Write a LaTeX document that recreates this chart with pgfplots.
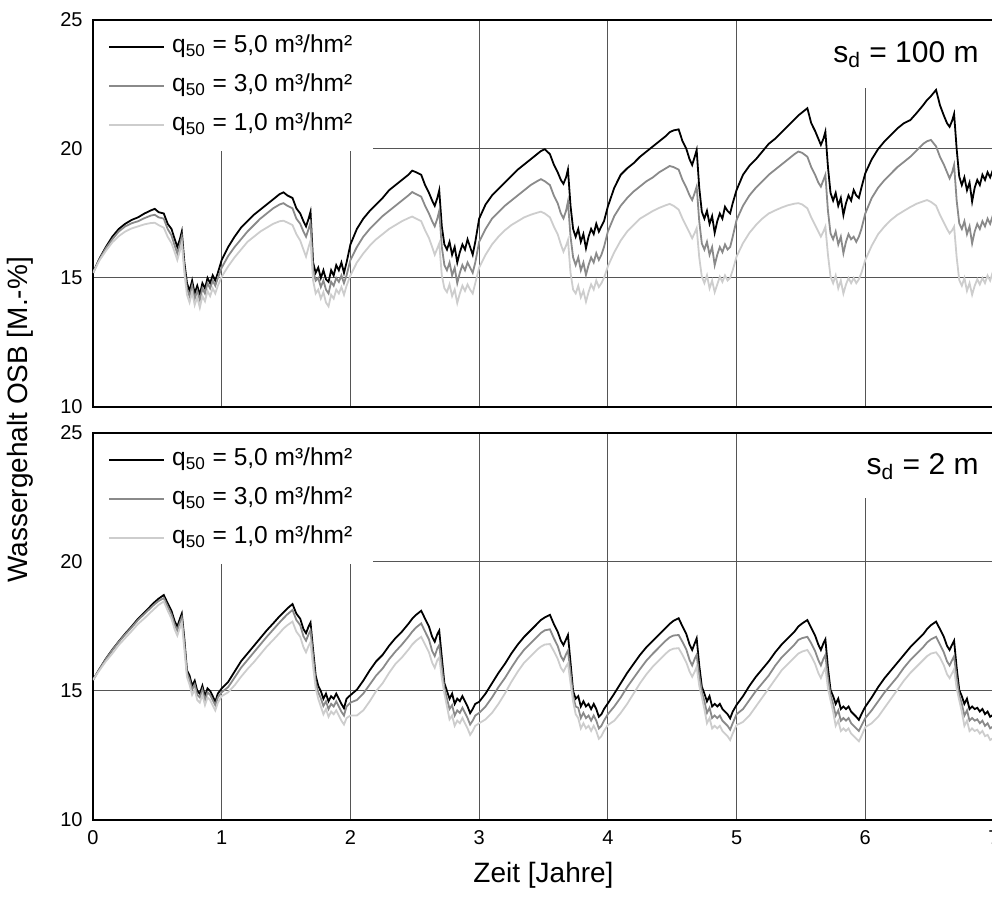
\documentclass[border=0pt]{standalone}
\usepackage{pgfplots}
\pgfplotsset{compat=1.18}
\usepackage{pgfplotstable}
\usepackage{fontspec}
\setmainfont{Liberation Sans}

\definecolor{gridc}{HTML}{555555}
\definecolor{qfive}{HTML}{000000}
\definecolor{qthree}{HTML}{8A8A8A}
\definecolor{qone}{HTML}{CDCDCD}

% s_d = 100 m : t  q50=5  q50=3  q50=1
\pgfplotstableread{
t b g l
0.00 15.2 15.2 15.2
0.05 15.75 15.72 15.68
0.10 16.2 16.15 16.05
0.15 16.6 16.5 16.38
0.20 16.9 16.8 16.62
0.25 17.1 17.0 16.8
0.30 17.25 17.12 16.92
0.35 17.35 17.2 17.0
0.40 17.5 17.32 17.08
0.45 17.62 17.42 17.13
0.48 17.68 17.45 17.14
0.51 17.55 17.35 17.05
0.55 17.5 17.3 16.95
0.58 17.1 16.9 16.6
0.61 16.9 16.65 16.35
0.635 16.5 16.25 16.0
0.655 16.2 15.95 15.7
0.675 16.5 16.3 16.05
0.69 16.8 16.6 16.35
0.71 15.6 15.4 15.2
0.73 14.8 14.6 14.35
0.75 14.5 14.3 14.05
0.77 14.9 14.7 14.45
0.79 14.4 14.2 13.95
0.81 14.7 14.5 14.25
0.83 14.35 14.15 13.85
0.85 14.8 14.6 14.3
0.87 14.6 14.4 14.1
0.89 15.0 14.8 14.5
0.91 14.8 14.6 14.3
0.93 15.1 14.9 14.6
0.95 14.9 14.7 14.4
0.97 15.2 15.0 14.7
1.00 15.7 15.4 15.05
1.05 16.2 15.85 15.45
1.10 16.6 16.2 15.8
1.15 16.95 16.5 16.1
1.20 17.2 16.8 16.4
1.25 17.45 17.05 16.6
1.30 17.65 17.3 16.8
1.35 17.85 17.5 16.95
1.40 18.05 17.7 17.1
1.45 18.25 17.85 17.2
1.48 18.32 17.9 17.22
1.51 18.2 17.8 17.15
1.55 18.1 17.7 17.05
1.58 17.7 17.3 16.7
1.61 17.5 17.1 16.45
1.635 17.2 16.8 16.1
1.655 17.0 16.6 15.83
1.675 17.3 16.9 16.2
1.69 17.57 17.15 16.45
1.71 15.6 15.3 14.9
1.73 15.2 14.9 14.4
1.75 15.4 15.0 14.55
1.77 15.0 14.65 14.2
1.79 15.3 14.9 14.45
1.81 14.95 14.55 14.05
1.83 14.85 14.4 13.9
1.85 15.3 14.85 14.35
1.87 15.1 14.7 14.2
1.89 15.5 15.0 14.55
1.91 15.3 14.85 14.4
1.93 15.6 15.1 14.65
1.95 15.2 14.8 14.35
1.97 15.6 15.1 14.7
2.00 16.3 15.7 15.1
2.05 16.9 16.2 15.6
2.10 17.3 16.6 15.95
2.15 17.6 16.9 16.25
2.20 17.85 17.15 16.5
2.25 18.1 17.4 16.7
2.30 18.4 17.6 16.9
2.35 18.6 17.8 17.05
2.40 18.8 18.0 17.2
2.45 19.0 18.2 17.32
2.48 19.16 18.33 17.38
2.51 19.1 18.25 17.3
2.55 19.0 18.15 17.2
2.58 18.6 17.8 16.85
2.61 18.3 17.5 16.55
2.635 18.0 17.2 16.2
2.655 17.8 17.0 15.9
2.675 18.1 17.3 16.15
2.69 18.4 17.6 16.34
2.71 17.0 16.2 15.1
2.73 16.3 15.5 14.6
2.75 16.1 15.3 14.45
2.77 16.4 15.6 14.75
2.79 15.9 15.1 14.3
2.81 16.2 15.4 14.55
2.83 15.6 14.8 14.03
2.85 16.0 15.2 14.4
2.87 16.3 15.5 14.7
2.89 16.1 15.3 14.5
2.91 16.5 15.6 14.75
2.93 16.2 15.4 14.55
2.95 15.9 15.2 14.4
2.97 16.4 15.6 14.8
3.00 17.3 16.4 15.4
3.05 17.85 16.9 15.9
3.10 18.2 17.3 16.3
3.15 18.45 17.55 16.6
3.20 18.7 17.8 16.85
3.25 18.95 18.0 17.05
3.30 19.2 18.2 17.2
3.35 19.4 18.4 17.35
3.40 19.6 18.6 17.45
3.45 19.8 18.75 17.53
3.48 19.92 18.83 17.57
3.51 19.99 18.75 17.5
3.55 19.8 18.6 17.35
3.58 19.4 18.2 17.0
3.61 19.1 17.9 16.7
3.635 18.8 17.5 16.3
3.655 18.65 17.31 16.02
3.675 18.9 17.6 16.25
3.69 19.2 17.96 16.47
3.71 17.8 16.6 15.2
3.73 16.9 15.8 14.55
3.75 16.6 15.5 14.4
3.77 16.9 15.8 14.7
3.79 16.4 15.3 14.25
3.81 16.7 15.6 14.5
3.83 16.15 15.12 14.08
3.85 16.6 15.5 14.45
3.87 16.9 15.8 14.75
3.89 16.7 15.6 14.55
3.91 17.1 15.96 14.9
3.93 16.8 15.7 14.65
3.95 17.0 15.9 14.8
3.97 17.2 16.2 15.0
4.00 17.77 16.8 15.45
4.05 18.5 17.4 16.0
4.10 19.0 17.8 16.45
4.15 19.25 18.1 16.8
4.20 19.45 18.35 17.05
4.25 19.7 18.55 17.3
4.30 19.9 18.75 17.45
4.35 20.1 18.9 17.6
4.40 20.3 19.1 17.72
4.45 20.5 19.25 17.82
4.48 20.65 19.34 17.87
4.51 20.72 19.3 17.8
4.55 20.76 19.2 17.65
4.58 20.3 18.8 17.3
4.61 20.0 18.5 17.0
4.635 19.6 18.2 16.75
4.655 19.38 18.02 16.54
4.675 19.7 18.3 16.75
4.69 19.96 18.54 16.93
4.71 18.5 17.2 15.8
4.73 17.57 16.34 15.05
4.75 17.3 16.1 14.8
4.77 17.6 16.4 15.1
4.79 17.1 15.9 14.6
4.81 17.4 16.2 14.9
4.83 16.75 15.5 14.45
4.85 17.2 15.9 14.75
4.87 17.5 16.2 15.05
4.89 17.3 16.0 14.85
4.91 17.76 16.3 15.1
4.93 17.6 16.1 14.9
4.95 17.5 16.2 15.0
4.97 17.9 16.6 15.3
5.00 18.41 17.25 15.83
5.05 19.0 17.8 16.35
5.10 19.35 18.2 16.75
5.15 19.6 18.5 17.05
5.20 19.9 18.75 17.3
5.25 20.2 19.0 17.5
5.30 20.4 19.2 17.62
5.35 20.65 19.4 17.73
5.40 20.9 19.6 17.82
5.45 21.15 19.8 17.88
5.48 21.3 19.9 17.9
5.51 21.42 19.85 17.85
5.55 21.58 19.7 17.7
5.58 21.0 19.3 17.35
5.61 20.7 19.0 17.05
5.635 20.4 18.7 16.8
5.655 20.16 18.54 16.6
5.675 20.4 18.8 16.8
5.69 20.67 19.0 16.99
5.71 19.3 17.6 15.9
5.73 18.3 16.73 15.05
5.75 18.0 16.5 14.8
5.77 18.3 16.8 15.1
5.79 17.8 16.3 14.6
5.81 18.1 16.6 14.9
5.83 17.44 15.96 14.4
5.85 17.9 16.4 14.75
5.87 18.2 16.7 15.0
5.89 18.0 16.5 14.8
5.91 18.41 16.6 15.0
5.93 18.2 16.4 14.8
5.95 18.1 16.6 14.95
5.97 18.5 16.9 15.2
6.00 19.06 17.5 15.7
6.05 19.6 18.1 16.25
6.10 20.0 18.5 16.7
6.15 20.3 18.8 17.0
6.20 20.55 19.05 17.25
6.25 20.8 19.3 17.45
6.30 21.0 19.5 17.6
6.35 21.12 19.7 17.75
6.40 21.4 19.95 17.88
6.45 21.7 20.2 17.97
6.48 21.9 20.3 18.02
6.51 22.05 20.35 17.95
6.55 22.29 20.1 17.8
6.58 21.7 19.7 17.45
6.61 21.3 19.4 17.15
6.635 21.0 19.1 16.9
6.655 20.86 18.86 16.73
6.675 21.1 19.1 16.85
6.69 21.36 19.38 16.99
6.71 20.0 18.0 15.8
6.73 18.93 17.12 14.92
6.75 18.6 16.9 14.7
6.77 18.9 17.2 15.0
6.79 18.4 16.7 14.5
6.81 18.7 17.0 14.8
6.83 17.96 16.34 14.35
6.85 18.5 16.8 14.7
6.87 18.8 17.1 14.95
6.89 18.6 16.9 14.75
6.91 19.0 17.2 15.0
6.93 18.8 17.0 14.8
6.95 19.1 17.3 15.1
6.97 18.9 17.1 14.9
7.00 19.3 17.57 15.38
}\sdhundred

% s_d = 2 m
\pgfplotstableread{
t b g l
0.00 15.43 15.43 15.43
0.05 15.85 15.84 15.8
0.10 16.25 16.23 16.15
0.15 16.6 16.58 16.45
0.20 16.92 16.9 16.78
0.25 17.22 17.19 17.05
0.30 17.5 17.46 17.32
0.35 17.8 17.75 17.6
0.40 18.05 17.99 17.82
0.45 18.3 18.23 18.06
0.48 18.45 18.37 18.2
0.51 18.58 18.49 18.34
0.55 18.72 18.6 18.47
0.58 18.4 18.28 18.12
0.61 18.1 17.97 17.8
0.635 17.7 17.56 17.38
0.655 17.5 17.35 17.15
0.675 17.8 17.65 17.45
0.69 18.0 17.85 17.65
0.71 17.0 16.85 16.6
0.73 15.8 15.7 15.55
0.75 15.6 15.45 15.25
0.77 15.2 15.05 14.85
0.79 15.4 15.25 15.05
0.81 15.0 14.85 14.65
0.83 14.9 14.75 14.55
0.85 15.2 15.05 14.85
0.87 14.8 14.65 14.45
0.89 15.1 14.95 14.75
0.91 15.0 14.85 14.65
0.93 14.8 14.65 14.45
0.95 14.58 14.45 14.25
0.97 14.9 14.75 14.55
1.00 15.1 14.95 14.8
1.05 15.35 15.15 14.95
1.10 15.75 15.52 15.22
1.15 16.15 15.9 15.55
1.20 16.45 16.2 15.85
1.25 16.75 16.5 16.12
1.30 17.05 16.8 16.42
1.35 17.35 17.1 16.72
1.40 17.62 17.38 16.98
1.45 17.9 17.66 17.25
1.48 18.05 17.82 17.42
1.51 18.2 17.97 17.55
1.55 18.37 18.14 17.69
1.58 18.0 17.75 17.3
1.61 17.8 17.55 17.1
1.635 17.4 17.12 16.7
1.655 17.24 16.95 16.5
1.675 17.5 17.2 16.75
1.69 17.65 17.35 16.9
1.71 16.6 16.35 15.95
1.73 15.6 15.35 15.1
1.75 15.2 14.95 14.7
1.77 15.0 14.72 14.4
1.79 14.7 14.42 14.1
1.81 14.9 14.6 14.3
1.83 14.6 14.3 14.0
1.85 14.8 14.5 14.2
1.87 14.7 14.4 14.1
1.89 14.9 14.6 14.25
1.91 14.7 14.4 14.05
1.93 14.5 14.2 13.85
1.95 14.33 14.05 13.7
1.97 14.7 14.4 13.95
2.00 14.84 14.55 14.05
2.05 15.05 14.65 14.05
2.10 15.4 14.9 14.25
2.15 15.8 15.25 14.6
2.20 16.15 15.6 15.0
2.25 16.4 15.87 15.3
2.30 16.75 16.23 15.7
2.35 17.05 16.53 16.05
2.40 17.3 16.8 16.3
2.45 17.6 17.1 16.6
2.48 17.8 17.3 16.8
2.51 17.95 17.46 16.95
2.55 18.11 17.62 17.1
2.58 17.8 17.3 16.8
2.61 17.5 17.0 16.5
2.635 17.1 16.55 16.1
2.655 16.91 16.35 15.9
2.675 17.2 16.65 16.2
2.69 17.34 16.78 16.3
2.71 16.3 15.9 15.5
2.73 15.3 15.1 14.9
2.75 15.0 14.7 14.4
2.77 14.7 14.3 13.9
2.79 14.9 14.45 14.05
2.81 14.5 14.05 13.65
2.83 14.7 14.25 13.85
2.85 14.6 14.15 13.75
2.87 14.8 14.35 13.95
2.89 14.6 14.15 13.75
2.91 14.4 13.95 13.55
2.93 14.14 13.7 13.3
2.95 14.3 13.85 13.45
2.97 14.5 14.05 13.65
3.00 14.58 14.15 13.75
3.05 14.9 14.4 13.9
3.10 15.3 14.75 14.15
3.15 15.7 15.15 14.5
3.20 16.05 15.5 14.9
3.25 16.45 15.9 15.35
3.30 16.8 16.28 15.75
3.35 17.1 16.6 16.1
3.40 17.35 16.85 16.35
3.45 17.6 17.1 16.6
3.48 17.75 17.25 16.72
3.51 17.85 17.35 16.8
3.55 17.95 17.39 16.82
3.58 17.6 17.05 16.55
3.61 17.3 16.75 16.25
3.635 16.95 16.35 15.9
3.655 16.78 16.18 15.75
3.675 17.0 16.42 15.95
3.69 17.17 16.57 16.07
3.71 16.1 15.7 15.3
3.73 15.0 14.8 14.6
3.75 14.7 14.4 14.1
3.77 14.8 14.35 13.95
3.79 14.4 13.95 13.55
3.81 14.6 14.15 13.75
3.83 14.4 13.95 13.55
3.85 14.5 14.05 13.65
3.87 14.3 13.85 13.45
3.89 14.5 14.05 13.65
3.91 14.3 13.85 13.45
3.93 14.0 13.55 13.15
3.95 14.1 13.65 13.25
3.97 14.3 13.85 13.45
4.00 14.52 14.1 13.68
4.05 14.9 14.4 13.85
4.10 15.3 14.75 14.15
4.15 15.7 15.15 14.5
4.20 16.05 15.5 14.9
4.25 16.4 15.85 15.3
4.30 16.7 16.18 15.65
4.35 16.95 16.45 15.95
4.40 17.2 16.7 16.2
4.45 17.45 16.95 16.45
4.48 17.6 17.08 16.58
4.51 17.72 17.15 16.64
4.55 17.82 17.17 16.66
4.58 17.5 16.9 16.4
4.61 17.2 16.6 16.1
4.635 16.8 16.2 15.75
4.655 16.59 15.99 15.55
4.675 16.85 16.25 15.75
4.69 17.04 16.4 15.94
4.71 16.0 15.6 15.2
4.73 15.17 14.97 14.77
4.75 14.9 14.6 14.3
4.77 14.6 14.15 13.75
4.79 14.8 14.35 13.95
4.81 14.4 13.95 13.55
4.83 14.5 14.05 13.65
4.85 14.4 13.95 13.55
4.87 14.5 14.05 13.65
4.89 14.3 13.85 13.45
4.91 14.2 13.75 13.35
4.93 14.1 13.65 13.25
4.95 13.94 13.5 13.1
4.97 14.2 13.75 13.35
5.00 14.46 14.1 13.68
5.05 14.8 14.3 13.8
5.10 15.2 14.65 14.05
5.15 15.55 15.0 14.4
5.20 15.85 15.3 14.75
5.25 16.15 15.6 15.1
5.30 16.5 15.98 15.45
5.35 16.8 16.3 15.8
5.40 17.05 16.55 16.05
5.45 17.3 16.8 16.3
5.48 17.5 16.98 16.45
5.51 17.62 17.05 16.53
5.55 17.75 17.1 16.59
5.58 17.45 16.85 16.35
5.61 17.15 16.55 16.05
5.635 16.8 16.2 15.7
5.655 16.59 15.99 15.5
5.675 16.85 16.25 15.75
5.69 17.0 16.4 15.9
5.71 15.9 15.5 15.1
5.73 15.04 14.84 14.64
5.75 14.8 14.5 14.2
5.77 14.5 14.05 13.65
5.79 14.7 14.25 13.85
5.81 14.3 13.85 13.45
5.83 14.4 13.95 13.55
5.85 14.3 13.85 13.45
5.87 14.4 13.95 13.55
5.89 14.2 13.75 13.35
5.91 14.1 13.65 13.25
5.93 14.0 13.55 13.15
5.95 13.88 13.45 13.05
5.97 14.1 13.65 13.25
6.00 14.39 13.95 13.6
6.05 14.75 14.25 13.75
6.10 15.15 14.6 14.0
6.15 15.5 14.95 14.35
6.20 15.8 15.25 14.7
6.25 16.1 15.55 15.05
6.30 16.4 15.9 15.4
6.35 16.7 16.2 15.7
6.40 16.95 16.45 15.95
6.45 17.2 16.7 16.2
6.48 17.4 16.88 16.35
6.51 17.55 17.0 16.45
6.55 17.69 17.1 16.5
6.58 17.4 16.8 16.3
6.61 17.1 16.5 16.0
6.635 16.75 16.15 15.65
6.655 16.59 15.99 15.5
6.675 16.8 16.2 15.7
6.69 16.95 16.35 15.85
6.71 15.9 15.5 15.1
6.73 15.04 14.84 14.64
6.75 14.8 14.5 14.2
6.77 14.5 14.05 13.65
6.79 14.7 14.25 13.85
6.81 14.3 13.85 13.45
6.83 14.4 13.95 13.55
6.85 14.3 13.85 13.45
6.87 14.35 13.9 13.5
6.89 14.2 13.75 13.35
6.91 14.3 13.85 13.45
6.93 14.1 13.65 13.25
6.95 14.2 13.75 13.3
6.97 14.0 13.55 13.1
7.00 14.1 13.65 13.2
}\sdtwo

\pgfplotsset{
  osb/.style={
    scale only axis,
    width=450.5pt, height=193.5pt,
    xmin=0, xmax=7, ymin=10, ymax=25,
    xtick={0,...,7}, ytick={10,15,20,25},
    grid=major,
    major grid style={draw=gridc, line width=0.5pt},
    major tick length=0pt,
    axis line style={line width=1pt},
    tick label style={font=\fontsize{10}{12}\selectfont},
    /pgf/number format/assume math mode=true,
    yticklabel style={inner sep=0pt, xshift=-5pt},
    xticklabel style={inner sep=0pt, yshift=-5pt},
    legend cell align=left,
    legend style={at={(0,1)}, anchor=north west, xshift=0.5pt, yshift=-0.5pt,
      draw=none, fill=white, inner xsep=7pt, inner ysep=5.75pt, row sep=5pt,
      font=\fontsize{12.25}{14}\selectfont,
      nodes={text height=9pt, text depth=3.5pt, inner ysep=1pt, inner xsep=3.5pt}},
    legend image code/.code={\draw[#1] (0pt,0pt) -- (27.5pt,0pt);},
  },
  every axis plot/.append style={line width=0.9pt, mark=none},
}

\begin{document}
\begin{tikzpicture}
\path[use as bounding box] (-46.5pt,-39pt) rectangle (449.5pt,410pt);

\begin{axis}[osb, at={(0pt,206.5pt)}, anchor=south west, xticklabels={}]
  \addplot[qfive] table[x=t, y=b] {\sdhundred};
  \addplot[qthree] table[x=t, y=g] {\sdhundred};
  \addplot[qone] table[x=t, y=l] {\sdhundred};
  \addlegendentry{q\textsubscript{50} = 5,0 m³/hm²}
  \addlegendentry{q\textsubscript{50} = 3,0 m³/hm²}
  \addlegendentry{q\textsubscript{50} = 1,0 m³/hm²}
  \node[anchor=north east, fill=white, inner xsep=7pt, minimum height=33.5pt,
    yshift=-0.5pt, xshift=-0.5pt, font=\fontsize{15}{18}\selectfont]
    at (rel axis cs:1,1) {s\textsubscript{d} = 100 m};
\end{axis}

\begin{axis}[osb, at={(0pt,0pt)}, anchor=south west,
    xlabel={Zeit [Jahre]},
    xlabel style={at={(axis description cs:0.5,0)}, anchor=center, yshift=-27.5pt,
      font=\fontsize{14}{16}\selectfont}]
  \addplot[qfive] table[x=t, y=b] {\sdtwo};
  \addplot[qthree] table[x=t, y=g] {\sdtwo};
  \addplot[qone] table[x=t, y=l] {\sdtwo};
  \addlegendentry{q\textsubscript{50} = 5,0 m³/hm²}
  \addlegendentry{q\textsubscript{50} = 3,0 m³/hm²}
  \addlegendentry{q\textsubscript{50} = 1,0 m³/hm²}
  \node[anchor=north east, fill=white, inner xsep=7pt, minimum height=32pt,
    yshift=-0.5pt, xshift=-0.5pt, font=\fontsize{15}{18}\selectfont]
    at (rel axis cs:1,1) {s\textsubscript{d} = 2 m};
\end{axis}

\node[rotate=90, font=\fontsize{14}{16}\selectfont] at (-36.5pt,200pt)
  {Wassergehalt OSB [M.-\%]};
\end{tikzpicture}
\end{document}
